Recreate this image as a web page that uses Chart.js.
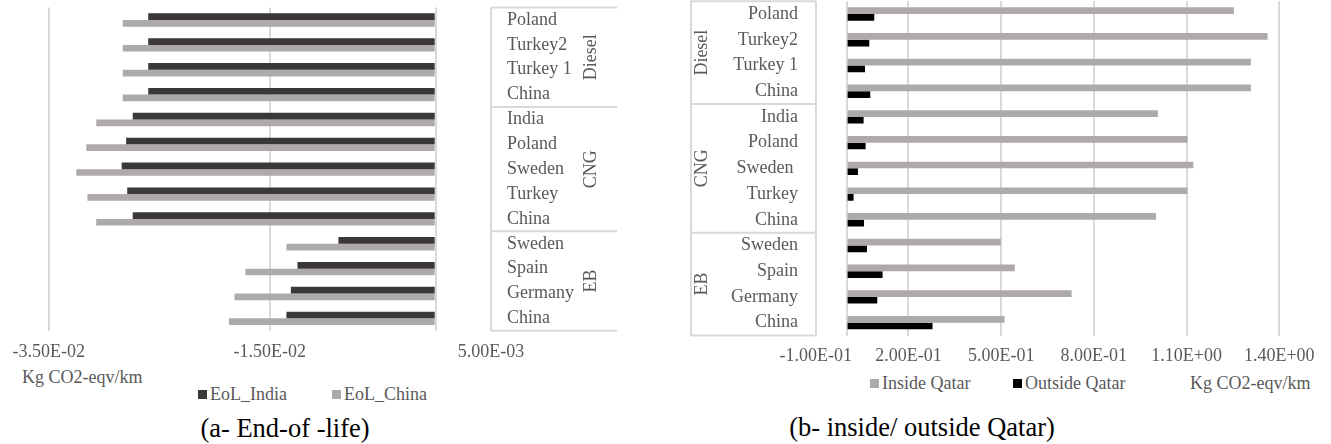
<!DOCTYPE html>
<html>
<head>
<meta charset="utf-8">
<title>End-of-life and inside/outside Qatar emissions</title>
<script src="https://cdn.jsdelivr.net/npm/chart.js@4.4.1/dist/chart.umd.min.js"></script>
<style>
  html, body { margin: 0; padding: 0; background: #ffffff; }
  body { width: 1331px; height: 444px; position: relative; overflow: hidden;
         font-family: "Times New Roman", "Liberation Serif", serif; }
  canvas { position: absolute; top: 0; }
  #chartA { left: 0; }
  #chartB { left: 690px; }
  .lbl { position: absolute; white-space: nowrap; color: #595959; font-size: 18px;
         line-height: 18px; transform: translateY(-50%); }
  .lbl i { display: inline-block; width: 9px; height: 9px; margin-right: 3px;
           vertical-align: 1px; }
  .cap { position: absolute; white-space: nowrap; color: #000000; font-size: 26.5px;
         line-height: 27px; transform: translate(-50%, -50%); }
</style>
</head>
<body>
<canvas id="chartA" width="617" height="366"></canvas>
<canvas id="chartB" width="641" height="372"></canvas>

<div class="lbl" style="left:22px; top:377px;">Kg CO2-eqv/km</div>
<div class="lbl" style="left:198px; top:394px;"><i style="background:#3b3838"></i>EoL_India</div>
<div class="lbl" style="left:332px; top:394px;"><i style="background:#aeaaaa"></i>EoL_China</div>
<div class="cap" style="left:285px; top:428px;">(a- End-of -life)</div>

<div class="lbl" style="left:870px; top:383px;"><i style="background:#aeaaaa"></i>Inside Qatar</div>
<div class="lbl" style="left:1013px; top:383px;"><i style="background:#000000"></i>Outside Qatar</div>
<div class="lbl" style="left:1190px; top:383px;">Kg CO2-eqv/km</div>
<div class="cap" style="left:922px; top:427px;">(b- inside/ outside Qatar)</div>

<script>
// Vehicle groups and the countries within each group (top to bottom)
const groupNames = ['Diesel', 'CNG', 'EB'];
const groupSizes = [4, 5, 4];
const countriesA = ['Poland', 'Turkey2', 'Turkey 1', 'China',
                    'India', 'Poland', 'Sweden', 'Turkey', 'China',
                    'Sweden', 'Spain', 'Germany', 'China'];
const countriesB = ['Poland', 'Turkey2', 'Turkey 1', 'China',
                    'India', 'Poland', 'Sweden ', 'Turkey', 'China',
                    'Sweden', 'Spain', 'Germany', 'China'];

// (a) End-of-life emissions, kg CO2-eqv/km
const eolIndia = [-0.0260, -0.0260, -0.0260, -0.0260,
                  -0.0274, -0.0280, -0.0284, -0.0279, -0.0274,
                  -0.0088, -0.0125, -0.0131, -0.0135];
const eolChina = [-0.0283, -0.0283, -0.0283, -0.0283,
                  -0.0307, -0.0316, -0.0325, -0.0315, -0.0307,
                  -0.0135, -0.0172, -0.0182, -0.0187];

// (b) Emissions inside / outside Qatar, kg CO2-eqv/km
const insideQatar  = [1.253, 1.362, 1.308, 1.308,
                      1.007, 1.103, 1.122, 1.103, 1.001,
                      0.499, 0.544, 0.728, 0.511];
const outsideQatar = [0.0895, 0.0734, 0.0595, 0.0766,
                      0.0550, 0.0614, 0.0368, 0.0226, 0.0562,
                      0.0659, 0.1164, 0.0992, 0.2780];

// Value-axis tick labels
const ticksA = [-0.035, -0.015, 0.005];
const ticksB = [-0.1, 0.2, 0.5, 0.8, 1.1, 1.4];

const FONT = '"Times New Roman", "Liberation Serif", serif';
const TEXT = '#595959';
const GRID = '#d9d9d9';
Chart.defaults.font.family = FONT;
Chart.defaults.color = TEXT;

// Excel-style scientific notation: -3.50E-02, 1.10E+00
function sci(v) {
  const [m, e] = v.toExponential(2).split('e');
  const p = parseInt(e, 10);
  return m + 'E' + (p < 0 ? '-' : '+') + String(Math.abs(p)).padStart(2, '0');
}

// Second level of the category axis: group dividers and rotated group names
const groupAxis = {
  id: 'groupAxis',
  afterDraw(chart, args, o) {
    const { ctx, chartArea } = chart;
    const y = chart.scales.y;
    const n = chart.data.labels.length;
    const band = (y.bottom - y.top) / n;
    const x0 = o.side === 'right' ? chartArea.right : 0;
    const x1 = o.side === 'right' ? chart.width : chartArea.left;
    const edges = [y.getPixelForValue(0) - band / 2];
    let idx = 0;
    groupSizes.forEach(sz => { idx += sz; edges.push(y.getPixelForValue(idx - 1) + band / 2); });

    ctx.save();
    ctx.strokeStyle = GRID;
    ctx.lineWidth = 2;
    ctx.beginPath();
    edges.forEach(e => { ctx.moveTo(x0, e); ctx.lineTo(x1, e); });
    if (o.outerEdge !== undefined) {
      ctx.moveTo(o.outerEdge, edges[0]);
      ctx.lineTo(o.outerEdge, edges[edges.length - 1]);
    }
    ctx.stroke();

    ctx.fillStyle = TEXT;
    ctx.font = '18px ' + FONT;
    ctx.textAlign = 'center';
    ctx.textBaseline = 'middle';
    groupNames.forEach((g, i) => {
      ctx.save();
      ctx.translate(o.textX, (edges[i] + edges[i + 1]) / 2);
      ctx.rotate(-Math.PI / 2);
      ctx.fillText(g, 0, 0);
      ctx.restore();
    });
    ctx.restore();
  }
};

function valueAxis(min, max, labels, height, pad) {
  return {
    type: 'linear',
    min: min,
    max: max,
    afterBuildTicks: ax => {
      // labelled ticks plus the zero line where the category axis crosses
      ax.ticks = [...labels, 0].sort((a, b) => a - b).map(v => ({ value: v }));
    },
    ticks: {
      callback: v => (v === 0 ? '' : sci(v)),
      font: { size: 18 },
      color: TEXT,
      padding: pad,
      autoSkip: false,
      maxRotation: 0,
      minRotation: 0
    },
    grid: { color: GRID, lineWidth: 2, drawTicks: false },
    border: { display: false },
    afterFit: ax => { ax.height = height; ax.paddingLeft = 0; ax.paddingRight = 0; }
  };
}

function categoryAxis(position, width, pad) {
  return {
    position: position,
    grid: { display: false, drawTicks: false },
    border: { display: false },
    ticks: { font: { size: 18 }, color: TEXT, padding: pad, autoSkip: false },
    afterFit: ax => { ax.width = width; ax.paddingTop = 0; ax.paddingBottom = 0; }
  };
}

new Chart(document.getElementById('chartA'), {
  type: 'bar',
  data: {
    labels: countriesA,
    datasets: [
      { label: 'EoL_India', data: eolIndia, backgroundColor: '#3b3838' },
      { label: 'EoL_China', data: eolChina, backgroundColor: '#aeaaaa' }
    ]
  },
  options: {
    indexAxis: 'y',
    responsive: false,
    animation: false,
    layout: { padding: { left: 48.7, top: 7.6, right: 0, bottom: 0 } },
    datasets: { bar: { barPercentage: 1.0, categoryPercentage: 0.536 } },
    scales: {
      x: valueAxis(-0.035, 0.005, ticksA, 35.2, 11),
      y: categoryAxis('right', 126, 16)
    },
    plugins: {
      legend: { display: false },
      tooltip: { enabled: false },
      groupAxis: { side: 'right', textX: 591 }
    }
  },
  plugins: [groupAxis]
});

new Chart(document.getElementById('chartB'), {
  type: 'bar',
  data: {
    labels: countriesB,
    datasets: [
      { label: 'Inside Qatar', data: insideQatar, backgroundColor: '#aeaaaa' },
      { label: 'Outside Qatar', data: outsideQatar, backgroundColor: '#000000' }
    ]
  },
  options: {
    indexAxis: 'y',
    responsive: false,
    animation: false,
    layout: { padding: { left: 0, top: 1.2, right: 51.7, bottom: 0 } },
    datasets: { bar: { barPercentage: 1.0, categoryPercentage: 0.52 } },
    scales: {
      x: valueAxis(-0.1, 1.4, ticksB, 36.5, 10),
      y: categoryAxis('left', 125.7, 17.7)
    },
    plugins: {
      legend: { display: false },
      tooltip: { enabled: false },
      groupAxis: { side: 'left', textX: 12, outerEdge: 1 }
    }
  },
  plugins: [groupAxis]
});
</script>
</body>
</html>
